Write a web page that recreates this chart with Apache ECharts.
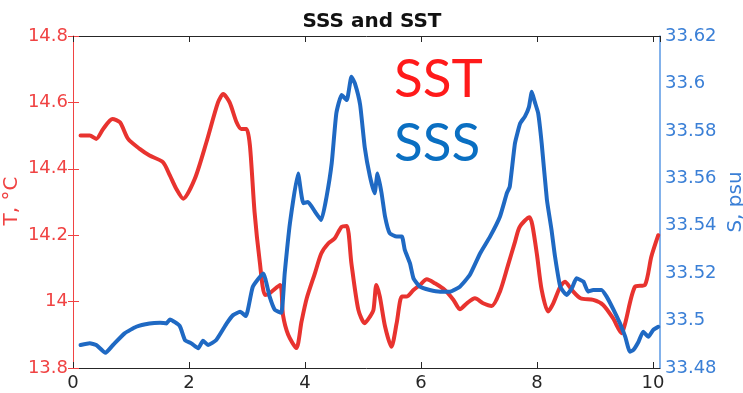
<!DOCTYPE html>
<html>
<head>
<meta charset="utf-8">
<script src="https://cdn.jsdelivr.net/npm/echarts@6/dist/echarts.min.js"></script>
<style>
  html, body { margin: 0; padding: 0; background: #fff; }
  #chart { width: 743px; height: 393px; }
</style>
</head>
<body>
<div id="chart"></div>
<script>
// Sea surface temperature (left axis, °C)
const sstTime = [0.13, 0.29, 0.40, 0.52, 0.68, 0.81, 0.95, 1.15, 1.32, 1.55, 1.67, 1.78, 1.90, 2.10, 2.30, 2.50,
  2.59, 2.70, 2.82, 2.90, 2.99, 3.05, 3.13, 3.22, 3.31, 3.39, 3.57, 3.62, 3.71, 3.85, 3.94, 4.03, 4.17, 4.28,
  4.40, 4.51, 4.63, 4.72, 4.80, 4.92, 5.03, 5.12, 5.18, 5.23, 5.29, 5.38, 5.49, 5.58, 5.67, 5.75, 5.87, 5.98,
  6.10, 6.24, 6.41, 6.56, 6.67, 6.79, 6.93, 7.07, 7.22, 7.36, 7.50, 7.62, 7.70, 7.87, 7.92, 8.00, 8.08, 8.19,
  8.28, 8.40, 8.48, 8.60, 8.75, 8.97, 9.14, 9.31, 9.46, 9.52, 9.69, 9.86, 9.97, 10.09];
const sstValues = [14.50, 14.50, 14.49, 14.52, 14.55, 14.54, 14.49, 14.46, 14.44, 14.42, 14.38, 14.34, 14.31, 14.37, 14.48, 14.60,
  14.625, 14.60, 14.54, 14.52, 14.52, 14.47, 14.27, 14.12, 14.02, 14.025, 14.05, 13.96, 13.90, 13.86, 13.94, 14.01, 14.085, 14.145,
  14.175, 14.19, 14.225, 14.228, 14.115, 13.975, 13.935, 13.955, 13.975, 14.05, 14.015, 13.925, 13.864, 13.935, 14.015, 14.015, 14.035, 14.05,
  14.067, 14.055, 14.035, 14.005, 13.977, 13.995, 14.01, 13.995, 13.987, 14.03, 14.11, 14.18, 14.225, 14.254, 14.23, 14.14, 14.035, 13.97,
  13.995, 14.045, 14.06, 14.035, 14.01, 14.005, 13.99, 13.95, 13.905, 13.935, 14.045, 14.05, 14.135, 14.20];

// Sea surface salinity (right axis, psu)
const sssTime = [0.13, 0.29, 0.40, 0.56, 0.69, 0.89, 1.09, 1.32, 1.50, 1.61, 1.67, 1.84, 1.93, 2.04, 2.16, 2.24, 2.33, 2.47,
  2.65, 2.76, 2.88, 2.98, 3.10, 3.28, 3.39, 3.48, 3.59, 3.65, 3.74, 3.88, 3.97, 4.05, 4.17, 4.28, 4.37, 4.46,
  4.54, 4.63, 4.72, 4.80, 4.86, 4.95, 5.03, 5.12, 5.20, 5.25, 5.32, 5.38, 5.46, 5.58, 5.67, 5.72, 5.81, 5.87,
  5.98, 6.15, 6.33, 6.50, 6.67, 6.84, 7.02, 7.19, 7.36, 7.48, 7.53, 7.62, 7.71, 7.79, 7.86, 7.91, 7.96, 8.02,
  8.08, 8.17, 8.25, 8.31, 8.40, 8.51, 8.60, 8.68, 8.80, 8.88, 8.97, 9.11, 9.20, 9.32, 9.43, 9.52, 9.60, 9.66,
  9.75, 9.83, 9.92, 10.00, 10.09];
const sssValues = [33.4897, 33.4904, 33.4897, 33.4864, 33.4897, 33.4946, 33.4974, 33.4988, 33.4991, 33.4988, 33.5005, 33.4977, 33.4918, 33.4904, 33.4883, 33.4915, 33.4897, 33.4918,
  33.4988, 33.5023, 33.5037, 33.5019, 33.5143, 33.5199, 33.5101, 33.5045, 33.5033, 33.5200, 33.5410, 33.5620, 33.5495, 33.5500, 33.5460, 33.5424, 33.5520, 33.5663,
  33.5874, 33.5951, 33.5930, 33.6028, 33.6000, 33.5910, 33.5730, 33.5607, 33.5537, 33.5620, 33.5537, 33.5438, 33.5368, 33.5354, 33.5354, 33.5298, 33.5241, 33.5178,
  33.5143, 33.5129, 33.5122, 33.5122, 33.5143, 33.5192, 33.5284, 33.5354, 33.5438, 33.5537, 33.5565, 33.5748, 33.5832, 33.5860, 33.5900, 33.5965, 33.5923, 33.5874,
  33.5748, 33.5510, 33.5382, 33.5270, 33.5143, 33.5108, 33.5136, 33.5178, 33.5164, 33.5122, 33.5129, 33.5129, 33.5101, 33.5045, 33.4988, 33.4932, 33.4869, 33.4876,
  33.4911, 33.4953, 33.4932, 33.4960, 33.4974];

const xTicks = [0, 2, 4, 6, 8, 10];

const FONT = 'DejaVu Sans';
const RED_LINE = '#e8332f';
const BLUE_LINE = '#1f69c3';
const RED_AXIS = '#f04343';
const BLUE_AXIS = '#3a7fd6';

const pair = (xs, ys) => xs.map((x, i) => [x, ys[i]]);
const xLabel = v => xTicks.some(t => Math.abs(t - v) < 1e-9) ? String(Math.round(v)) : '';

const chart = echarts.init(document.getElementById('chart'), null, { renderer: 'canvas' });

chart.setOption({
  animation: false,
  backgroundColor: '#ffffff',
  title: {
    text: 'SSS and SST',
    left: 367,
    top: 7,
    textAlign: 'center',
    textStyle: { fontFamily: FONT, fontWeight: 'bold', fontSize: 20, color: '#111111' }
  },
  grid: { left: 73, right: 83, top: 36, bottom: 25, containLabel: false, outerBoundsMode: 'none' },
  xAxis: [
    {
      type: 'value', position: 'bottom', min: 0, max: 10.12, interval: 2,
      axisLine: { show: true, onZero: false, lineStyle: { color: '#262626', width: 1 } },
      axisTick: { show: true, inside: true, length: 6, lineStyle: { color: '#262626' } },
      axisLabel: { formatter: xLabel, fontFamily: FONT, fontSize: 18, color: '#262626', margin: 6, showMaxLabel: false },
      splitLine: { show: false }
    },
    {
      type: 'value', position: 'top', min: 0, max: 10.12, interval: 2,
      axisLine: { show: true, onZero: false, lineStyle: { color: '#262626', width: 1 } },
      axisTick: { show: true, inside: true, length: 6, lineStyle: { color: '#262626' } },
      axisLabel: { show: false },
      splitLine: { show: false }
    }
  ],
  yAxis: [
    {
      type: 'value', position: 'left', min: 13.8, max: 14.8, interval: 0.2,
      axisLine: { show: true, onZero: false, lineStyle: { color: RED_AXIS, width: 1 } },
      axisTick: { show: true, inside: true, length: 6, lineStyle: { color: RED_AXIS } },
      axisLabel: { fontFamily: FONT, fontSize: 18, color: RED_AXIS, margin: 5 },
      splitLine: { show: false }
    },
    {
      type: 'value', position: 'right', min: 33.48, max: 33.62, interval: 0.02,
      axisLine: { show: true, onZero: false, lineStyle: { color: '#5a98e4', width: 1.5 } },
      axisTick: { show: false },
      axisLabel: { fontFamily: FONT, fontSize: 18, color: BLUE_AXIS, margin: 5 },
      splitLine: { show: false }
    },
    {
      // temperature ticks repeated along the right edge
      type: 'value', position: 'right', offset: 0, min: 13.8, max: 14.8, interval: 0.2,
      axisLine: { show: false },
      axisTick: { show: true, inside: true, length: 5, lineStyle: { color: RED_AXIS } },
      axisLabel: { show: false },
      splitLine: { show: false }
    }
  ],
  series: [
    {
      name: 'SST', type: 'line', xAxisIndex: 0, yAxisIndex: 0,
      data: pair(sstTime, sstValues),
      showSymbol: false, smooth: 0.25,
      lineStyle: { color: RED_LINE, width: 4, join: 'round', cap: 'round' }
    },
    {
      name: 'SSS', type: 'line', xAxisIndex: 0, yAxisIndex: 1,
      data: pair(sssTime, sssValues),
      showSymbol: false, smooth: 0.15,
      lineStyle: { color: BLUE_LINE, width: 4, join: 'round', cap: 'round' }
    }
  ],
  graphic: [
    {
      // axis titles, read bottom to top
      type: 'text', x: 12, y: 201, rotation: Math.PI / 2,
      style: { text: 'T, °C', fill: RED_AXIS, font: 'normal 20px "DejaVu Sans"', align: 'center', verticalAlign: 'middle' }
    },
    {
      type: 'text', x: 736, y: 202, rotation: Math.PI / 2,
      style: { text: 'S, psu', fill: BLUE_AXIS, font: 'normal 20px "DejaVu Sans"', align: 'center', verticalAlign: 'middle' }
    },
    {
      type: 'text', left: 394, top: 53,
      style: { text: 'SST', fill: '#ff1a1a', font: 'normal 53px Lato' }
    },
    {
      type: 'text', left: 394, top: 117,
      style: { text: 'SSS', fill: '#0a6fc2', font: 'normal 53px Lato' }
    }
  ]
});
</script>
</body>
</html>
